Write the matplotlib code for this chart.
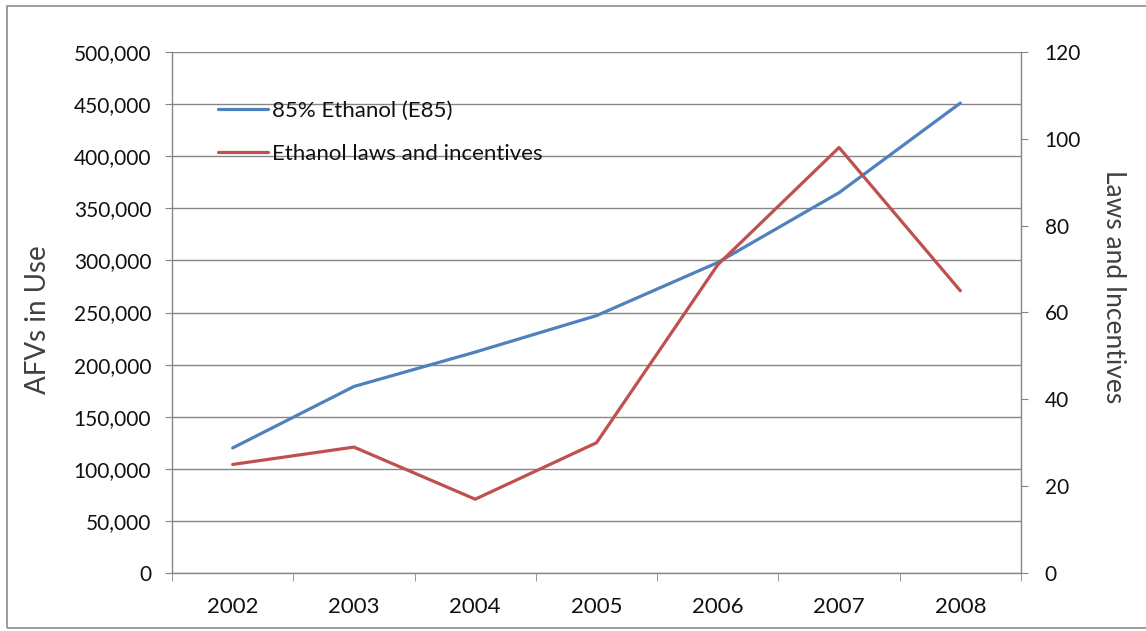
import matplotlib
matplotlib.use("Agg")
import matplotlib.pyplot as plt
from matplotlib.ticker import FuncFormatter, FixedLocator
from matplotlib.patches import Rectangle

# data
years = ["2002", "2003", "2004", "2005", "2006", "2007", "2008"]
e85_vehicles = [120000, 179000, 212000, 247000, 298000, 365000, 451000]
laws_incentives = [25, 29, 17, 30, 71, 98, 65]

plt.rcParams["font.family"] = ["Lato", "DejaVu Sans"]

fig = plt.figure(figsize=(11.46, 6.31), dpi=100)
ax = fig.add_axes([172 / 1146, 1 - 573 / 631, (1021 - 172) / 1146, (573 - 52) / 631])
ax2 = ax.twinx()

x = list(range(len(years)))
grid_c = "#868686"
text_c = "#111111"

l1, = ax.plot(x, e85_vehicles, color="#4F81BD", lw=2.3, solid_capstyle="round",
              label="85% Ethanol (E85)", zorder=3)
l2, = ax2.plot(x, laws_incentives, color="#C0504D", lw=2.3, solid_capstyle="round",
               label="Ethanol laws and incentives", zorder=3)

ax.set_xlim(-0.5, len(years) - 0.5)
ax.set_ylim(0, 500000)
ax2.set_ylim(0, 120)
ax.set_yticks(range(0, 500001, 50000))
ax2.set_yticks(range(0, 121, 20))
ax.yaxis.set_major_formatter(FuncFormatter(lambda v, p: f"{int(v):,}"))

ax.set_xticks(x)
ax.set_xticklabels(years)
ax.xaxis.set_minor_locator(FixedLocator([i - 0.5 for i in range(len(years) + 1)]))
ax.tick_params(axis="x", which="major", length=0, pad=17, labelsize=16, colors=text_c)
ax.tick_params(axis="x", which="minor", length=6, direction="out", color=grid_c)
ax.tick_params(axis="y", length=5, direction="out", color=grid_c, labelsize=15,
               labelcolor=text_c, pad=10)
ax2.tick_params(axis="y", length=5, direction="out", color=grid_c, labelsize=15,
                labelcolor=text_c, pad=12)

ax.grid(axis="y", color=grid_c, lw=1)
ax.set_axisbelow(True)
ax.spines["top"].set_visible(False)
ax2.spines["top"].set_visible(False)
ax2.spines["left"].set_visible(False)
ax2.spines["bottom"].set_visible(False)
ax.spines["right"].set_visible(False)
for s in [ax.spines["left"], ax.spines["bottom"], ax2.spines["right"]]:
    s.set_color(grid_c)
    s.set_linewidth(1)

ax.set_ylabel("AFVs in Use", fontsize=20, color="#404040")
ax2.set_ylabel("Laws and Incentives", fontsize=19, color="#404040", rotation=270)
ax.yaxis.set_label_coords(-0.158, 0.486)
ax2.yaxis.set_label_coords(1.1095, 0.549)
ax.yaxis.label.set_va("center")
ax2.yaxis.label.set_va("center")

ax.legend(handles=[l1, l2], loc="upper left", bbox_to_anchor=(0.054, 0.906),
          borderaxespad=0, borderpad=0, frameon=False, fontsize=16,
          handlelength=2.25, handletextpad=0.18, labelspacing=1.03,
          labelcolor=text_c)

# outer chart border
fig.patches.append(Rectangle((7 / 1146, 1 - 628 / 631), 1.2, 622 / 631,
                             transform=fig.transFigure, fill=False,
                             edgecolor="#8c8c8c", lw=1.2))

fig.savefig("out.png", dpi=100)
